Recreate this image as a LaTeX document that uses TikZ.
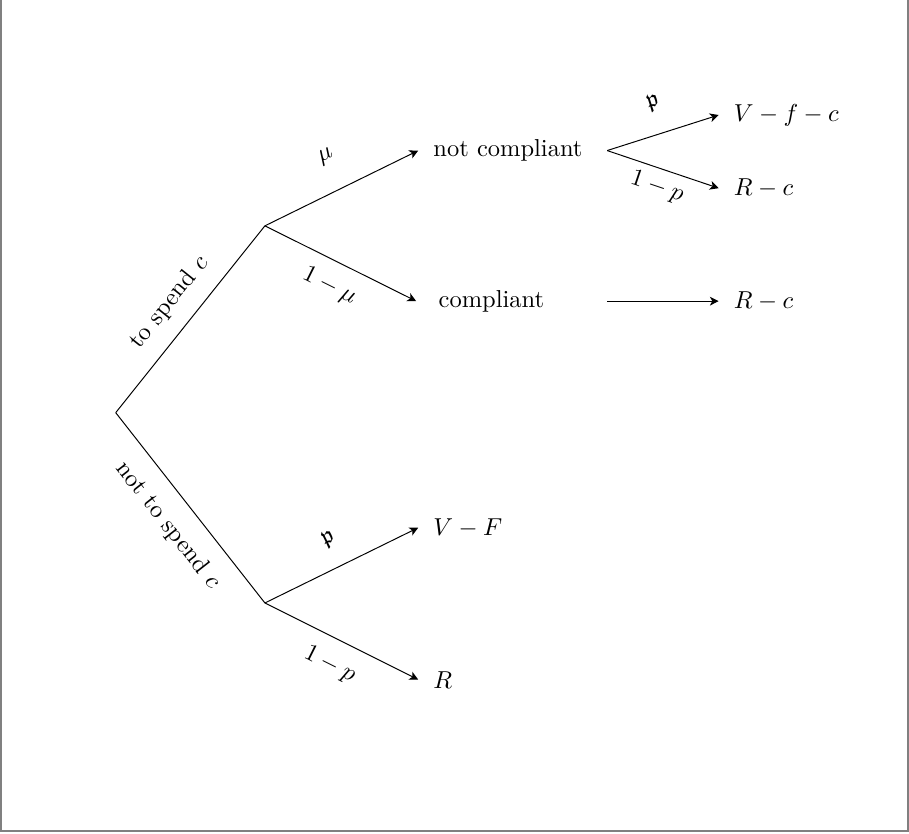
\documentclass[tikz,border=0pt]{standalone}
\usepackage{amsmath, amssymb}
\usepackage{tikz}
\usetikzlibrary{positioning, arrows.meta}

\tikzset{
  outcome/.style={anchor=west, inner xsep=6pt},
  branch/.style={-{Stealth[length=3.6pt, width=3.6pt, inset=1pt]}},
  prob/.style={midway, sloped}
}

\begin{document}
\begin{tikzpicture}
  \useasboundingbox (0,0) rectangle (13.04,11.95);
  \draw[gray, line width=0.8pt] (0.02,11.95) -- (0.02,0.03) -- (13.02,0.03) -- (13.02,11.95);
  \coordinate (root) at (1.66,6.03);
  \coordinate (spend) at (3.80,8.71);
  \coordinate (nospend) at (3.80,3.30);
  \node[outcome] (nc) at (6.00,9.79) {not compliant};
  \node[outcome, inner xsep=9pt] (cp) at (5.97,7.63) {compliant};
  \node[outcome] (vF) at (6.00,4.38) {$V-F$};
  \node[outcome] (r) at (6.00,2.20) {$R$};
  \coordinate (ncout) at (8.71,9.79);
  \coordinate (cpout) at (8.71,7.63);
  \node[outcome] (vfc) at (10.31,10.30) {$V-f-c$};
  \node[outcome] (rc1) at (10.31,9.25) {$R-c$};
  \node[outcome] (rc2) at (10.31,7.63) {$R-c$};
  \draw (root) -- (spend) node[prob, above=3pt] {to spend $c$};
  \draw (root) -- (nospend) node[prob, below=3.6pt] {not to spend $c$};
  \draw[branch] (spend) -- (nc.west) node[prob, above=7.8pt] {$\mu$};
  \draw[branch] (spend) -- (cp.west) node[prob, below=2.6pt] {$1-\mu$};
  \draw[branch] (nospend) -- (vF.west) node[prob, above=5pt] {$\mathfrak{p}$};
  \draw[branch] (nospend) -- (r.west) node[prob, below=3pt] {$1-p$};
  \draw[branch] (ncout) -- (vfc.west) node[prob, above=5.8pt] {$\mathfrak{p}$};
  \draw[branch] (ncout) -- (rc1.west) node[prob, below=0pt] {$1-p$};
  \draw[branch] (cpout) -- (rc2.west);
\end{tikzpicture}
\end{document}
